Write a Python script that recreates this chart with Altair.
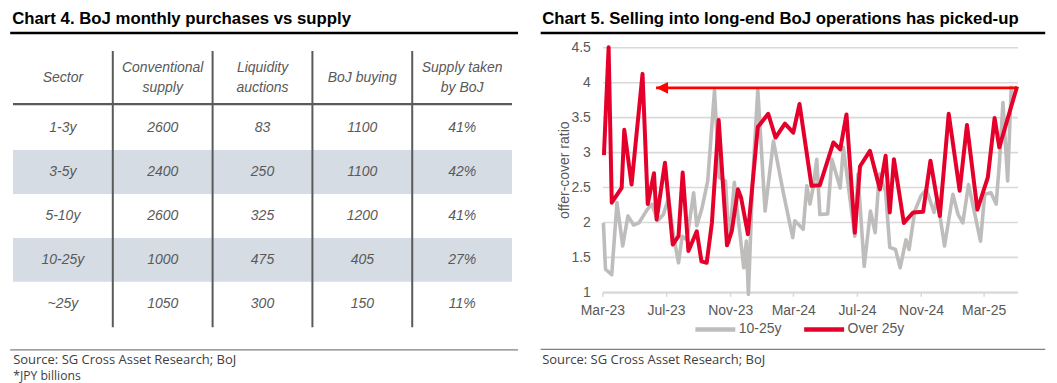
import altair as alt
import pandas as pd

# ---------------- Chart 4: table ----------------
table_title = "Chart 4. BoJ monthly purchases vs supply"
col_ids = ["sector", "conv", "liq", "boj", "share"]
col_headers = ["Sector", "Conventional\nsupply", "Liquidity\nauctions", "BoJ buying", "Supply taken\nby BoJ"]
sectors = ["1-3y", "3-5y", "5-10y", "10-25y", "~25y"]
conventional_supply = [2600, 2400, 2600, 1000, 1050]
liquidity_auctions = [83, 250, 325, 475, 300]
boj_buying = [1100, 1100, 1200, 405, 150]
supply_taken_pct = [41, 42, 41, 27, 11]
shaded_rows = ["3-5y", "10-25y"]
table_source = "Source: SG Cross Asset Research; BoJ"
table_note = "*JPY billions"

# ---------------- Chart 5: offer-cover ratios ----------------
line_title = "Chart 5. Selling into long-end BoJ operations has picked-up"
line_source = "Source: SG Cross Asset Research; BoJ"
y_title = "offer-cover ratio"
series_names = ["10-25y", "Over 25y"]

dates_10_25 = ["2023-03-03", "2023-03-07", "2023-03-19", "2023-03-29", "2023-04-09", "2023-04-19", "2023-04-30",
               "2023-05-10", "2023-05-26", "2023-06-04", "2023-06-15", "2023-06-26", "2023-07-06", "2023-07-15",
               "2023-07-25", "2023-08-01", "2023-08-10", "2023-08-23", "2023-08-29", "2023-09-08", "2023-09-19",
               "2023-10-02", "2023-10-11", "2023-10-23", "2023-10-30", "2023-11-09", "2023-11-17", "2023-11-27",
               "2023-12-02", "2023-12-06", "2023-12-14", "2023-12-24", "2024-01-07", "2024-01-23", "2024-02-11",
               "2024-02-29", "2024-03-04", "2024-03-20", "2024-03-27", "2024-04-02", "2024-04-08", "2024-04-15",
               "2024-04-21", "2024-05-06", "2024-05-14", "2024-05-30", "2024-06-05", "2024-06-27", "2024-07-03",
               "2024-07-15", "2024-07-27", "2024-08-05", "2024-08-13", "2024-08-25", "2024-09-02", "2024-09-13",
               "2024-09-22", "2024-10-03", "2024-10-09", "2024-10-20", "2024-11-01", "2024-11-11", "2024-11-26",
               "2024-12-02", "2024-12-16", "2025-01-01", "2025-01-11", "2025-01-20", "2025-01-31", "2025-02-23",
               "2025-03-03", "2025-03-15", "2025-03-25", "2025-03-31", "2025-04-07", "2025-04-16", "2025-04-23"]
ratio_10_25 = [1.99, 1.33, 1.25, 2.28, 1.66, 2.09, 1.96, 1.99, 2.18, 2.26, 2.02, 2.11, 2.35, 1.83, 1.42, 1.80,
               1.75, 2.42, 1.95, 2.20, 2.59, 3.88, 2.64, 2.59, 1.71, 2.57, 2.02, 1.35, 1.73, 0.97, 2.59, 3.89,
               2.16, 3.16, 2.42, 1.78, 2.02, 1.90, 2.52, 2.26, 2.49, 2.90, 2.11, 2.12, 2.90, 2.49, 3.07, 1.80,
               2.69, 1.37, 2.16, 1.85, 2.69, 2.44, 1.64, 1.61, 1.35, 1.75, 1.61, 2.16, 2.38, 2.47, 2.14, 2.35,
               1.66, 2.40, 2.11, 1.99, 2.54, 1.73, 2.40, 2.42, 2.26, 2.83, 3.71, 2.59, 3.95]

dates_over25 = ["2023-03-04", "2023-03-13", "2023-03-19", "2023-04-07", "2023-04-12", "2023-04-26", "2023-05-17",
                "2023-05-27", "2023-06-08", "2023-06-13", "2023-06-29", "2023-07-14", "2023-07-25", "2023-08-02",
                "2023-08-13", "2023-08-29", "2023-09-07", "2023-09-17", "2023-09-27", "2023-10-10", "2023-10-26",
                "2023-11-04", "2023-11-16", "2023-11-22", "2023-12-05", "2023-12-24", "2024-01-13", "2024-01-27",
                "2024-02-14", "2024-03-01", "2024-03-13", "2024-04-05", "2024-04-21", "2024-05-17", "2024-05-30",
                "2024-06-11", "2024-06-27", "2024-07-07", "2024-07-26", "2024-08-14", "2024-08-25", "2024-09-02",
                "2024-09-10", "2024-09-29", "2024-10-17", "2024-11-05", "2024-11-19", "2024-12-07", "2024-12-24",
                "2025-01-14", "2025-01-28", "2025-02-17", "2025-03-09", "2025-03-22", "2025-03-31", "2025-05-04"]
ratio_over25 = [2.96, 4.50, 2.28, 2.49, 3.32, 2.54, 4.12, 2.26, 2.70, 2.04, 2.85, 1.68, 1.80, 2.71, 1.59, 1.87,
                1.44, 1.42, 1.99, 3.46, 1.67, 1.87, 2.47, 2.35, 1.83, 3.36, 3.55, 3.21, 3.41, 3.28, 3.69, 2.52,
                2.53, 3.14, 3.04, 3.54, 1.85, 2.80, 3.02, 2.47, 2.95, 2.14, 2.90, 1.99, 2.14, 2.15, 2.88, 2.09,
                3.55, 2.45, 3.39, 2.18, 2.64, 3.49, 3.07, 3.94]

y_ticks = [1, 1.5, 2, 2.5, 3, 3.5, 4, 4.5]
x_tick_months = [(2023, 3), (2023, 7), (2023, 11), (2024, 3), (2024, 7), (2024, 11), (2025, 3)]
x_start = (2023, 3, 1)
x_end = (2025, 5, 5)

# annotation arrow (from latest level back to the May-23 peak)
arrow_tip_date = "2023-06-12"
arrow_end_date = "2025-05-04"
arrow_level = 3.92

assert len(dates_10_25) == len(ratio_10_25)
assert len(dates_over25) == len(ratio_over25)

# ---------------- styles ----------------
GRAY_TXT = "#595959"
GRAY_LINE = "#bfbcbc"
RED_LINE = "#e4002b"
ARROW_RED = "#ff0000"
SHADE = "#d6dce4"
TABLE_RULE = "#5a5a5a"
TITLE_FONT = "Liberation Sans"
NOTE_FONT = "Open Sans"

# ============ left panel: table ============
TW, TH = 500, 281


def xband(pos=None):
    kw = {}
    if pos is not None:
        kw["bandPosition"] = pos
    return alt.X("col:N", scale=alt.Scale(type="band", domain=col_ids, paddingInner=0, paddingOuter=0),
                 axis=None, **kw)


def yband(pos=None):
    kw = {}
    if pos is not None:
        kw["bandPosition"] = pos
    return alt.Y("sector:N", scale=alt.Scale(type="band", domain=sectors, range=[59, 279],
                                              paddingInner=0, paddingOuter=0),
                 axis=None, **kw)


cells = []
for i, s in enumerate(sectors):
    vals = [s, str(conventional_supply[i]), str(liquidity_auctions[i]), str(boj_buying[i]),
            f"{supply_taken_pct[i]}%"]
    for c, v in zip(col_ids, vals):
        cells.append({"sector": s, "col": c, "txt": v})
cells_df = pd.DataFrame(cells)
head1_df = pd.DataFrame([{"col": c, "label": h} for c, h in zip(col_ids, col_headers) if "\n" not in h])
head2_df = pd.DataFrame([{"col": c, "label": h} for c, h in zip(col_ids, col_headers) if "\n" in h])
shade_df = pd.DataFrame({"sector": shaded_rows})
sep_df = pd.DataFrame({"col": col_ids[1:]})
one = pd.DataFrame({"k": [0]})

txt_style = dict(font="Liberation Sans", fontSize=14, fontStyle="italic", color=GRAY_TXT,
                 align="center", baseline="middle")
HEAD_LH = 19.6

shade = alt.Chart(shade_df).mark_rect(color=SHADE).encode(
    y=yband(), x=alt.value(0), x2=alt.value(TW))
seps = alt.Chart(sep_df).mark_rule(color=TABLE_RULE, strokeWidth=2).encode(
    x=xband(0), y=alt.value(3.7), y2=alt.value(280.5))
head_rule = alt.Chart(one).mark_rule(color=TABLE_RULE, strokeWidth=2.2).encode(
    x=alt.value(0), x2=alt.value(TW), y=alt.value(57))
head1_txt = alt.Chart(head1_df).mark_text(**txt_style).encode(
    x=xband(0.5), y=alt.value(31), text="label:N")
head2_txt = alt.Chart(head2_df).mark_text(lineBreak="\n", lineHeight=HEAD_LH, **txt_style).encode(
    x=xband(0.5), y=alt.value(31 - HEAD_LH / 2), text="label:N")
cell_txt = alt.Chart(cells_df).mark_text(**txt_style).encode(
    x=xband(0.5), y=yband(0.5), text="txt:N")


def title_layer(text, x, y):
    return alt.Chart(pd.DataFrame({"t": [text]})).mark_text(
        font=TITLE_FONT, fontSize=16.8, fontWeight="bold", color="#000000", align="left",
        baseline="alphabetic").encode(x=alt.value(x), y=alt.value(y), text="t:N")


def hrule(x1, x2, y, color, w):
    return alt.Chart(one).mark_rule(color=color, strokeWidth=w).encode(
        x=alt.value(x1), x2=alt.value(x2), y=alt.value(y))


def note_layer(text, x, y, size=13):
    return alt.Chart(pd.DataFrame({"t": [text]})).mark_text(
        font=NOTE_FONT, fontSize=size, color="#404040", align="left", baseline="middle").encode(
        x=alt.value(x), y=alt.value(y), text="t:N")


left = alt.layer(
    shade, seps, head_rule, head1_txt, head2_txt, cell_txt,
    title_layer(table_title, -0.8, -23.3),
    hrule(-2.8, 506, -14.3, "#000000", 2.4),
    hrule(-2.8, 506, 303.2, "#808080", 1.2),
    note_layer(table_source, 0.2, 313.7),
    note_layer(table_note, 0.2, 329.0, 12.2),
).properties(width=TW, height=TH)

# ============ right panel: line chart ============
LW, LH = 416, 245.4

df_gray = pd.DataFrame({"date": dates_10_25, "ratio": ratio_10_25, "series": series_names[0]})
df_red = pd.DataFrame({"date": dates_over25, "ratio": ratio_over25, "series": series_names[1]})
arrow_df = pd.DataFrame({"date": [arrow_tip_date], "end": [arrow_end_date], "ratio": [arrow_level]})

x_enc = alt.X("date:T", title=None,
              scale=alt.Scale(domain=[alt.DateTime(year=x_start[0], month=x_start[1], date=x_start[2]),
                                      alt.DateTime(year=x_end[0], month=x_end[1], date=x_end[2])]),
              axis=alt.Axis(values=[alt.DateTime(year=yy, month=mm, date=1) for yy, mm in x_tick_months],
                            format="%b-%y", grid=False, domain=True, domainColor="#d9d9d9",
                            domainWidth=2, ticks=True, tickColor="#d9d9d9", tickSize=4, tickWidth=1.5,
                            labelFont="Liberation Sans", labelFontSize=14, labelColor=GRAY_TXT,
                            labelPadding=7, labelFlush=False, labelOverlap=False))
y_enc = alt.Y("ratio:Q", title=y_title,
              scale=alt.Scale(domain=[1, 4.5], nice=False, zero=False),
              axis=alt.Axis(values=y_ticks, format="~g", grid=True, gridColor="#d9d9d9", gridWidth=1.6,
                            domain=False, ticks=False, labelFont="Liberation Sans", labelFontSize=14,
                            labelColor=GRAY_TXT, labelPadding=12, labelOverlap=False,
                            titleFont="Liberation Sans", titleFontSize=14, titleFontWeight="normal",
                            titleColor=GRAY_TXT, titleAngle=270, titleX=-38.3, titleY=LH / 2,
                            titleAlign="center", titleBaseline="middle"))
color_enc = alt.Color("series:N", scale=alt.Scale(domain=series_names, range=[GRAY_LINE, RED_LINE]),
                      legend=alt.Legend(title=None, orient="none", legendX=90.7, legendY=260,
                                        direction="horizontal", symbolType="stroke", symbolSize=1600,
                                        symbolStrokeWidth=4.5, labelFont="Liberation Sans",
                                        labelFontSize=14, labelColor=GRAY_TXT, labelOffset=1,
                                        columnPadding=13, padding=0))

gray_line = alt.Chart(df_gray).mark_line(strokeWidth=3.6, strokeJoin="round").encode(
    x=x_enc, y=y_enc, color=color_enc)
red_line = alt.Chart(df_red).mark_line(strokeWidth=4, strokeJoin="round").encode(
    x=x_enc, y=y_enc, color=color_enc)
arrow_shaft = alt.Chart(arrow_df).mark_rule(color=ARROW_RED, strokeWidth=2.7).encode(
    x=x_enc, x2="end:T", y=y_enc)
arrow_head = alt.Chart(arrow_df).mark_point(shape="M0,0L2,-1L2,1Z", filled=True, color=ARROW_RED,
                                            size=144, opacity=1).encode(x=x_enc, y=y_enc)

right = alt.layer(
    gray_line, red_line, arrow_shaft, arrow_head,
    title_layer(line_title, -60.3, -23.3),
    hrule(-61.8, 443.7, -14.3, "#000000", 2.4),
    hrule(-61.8, 443.7, 302.7, "#808080", 1.2),
    note_layer(line_source, -60.3, 313.7),
).properties(width=LW, height=LH)

chart = alt.hconcat(left, right, spacing=90.5, bounds="flush").resolve_scale(
    color="independent").resolve_legend(color="independent").properties(
    padding={"left": 1, "top": 2, "right": 2, "bottom": 0}
).configure_view(stroke=None)

chart.save("out.html", embed_options={"renderer": "svg", "actions": False})
